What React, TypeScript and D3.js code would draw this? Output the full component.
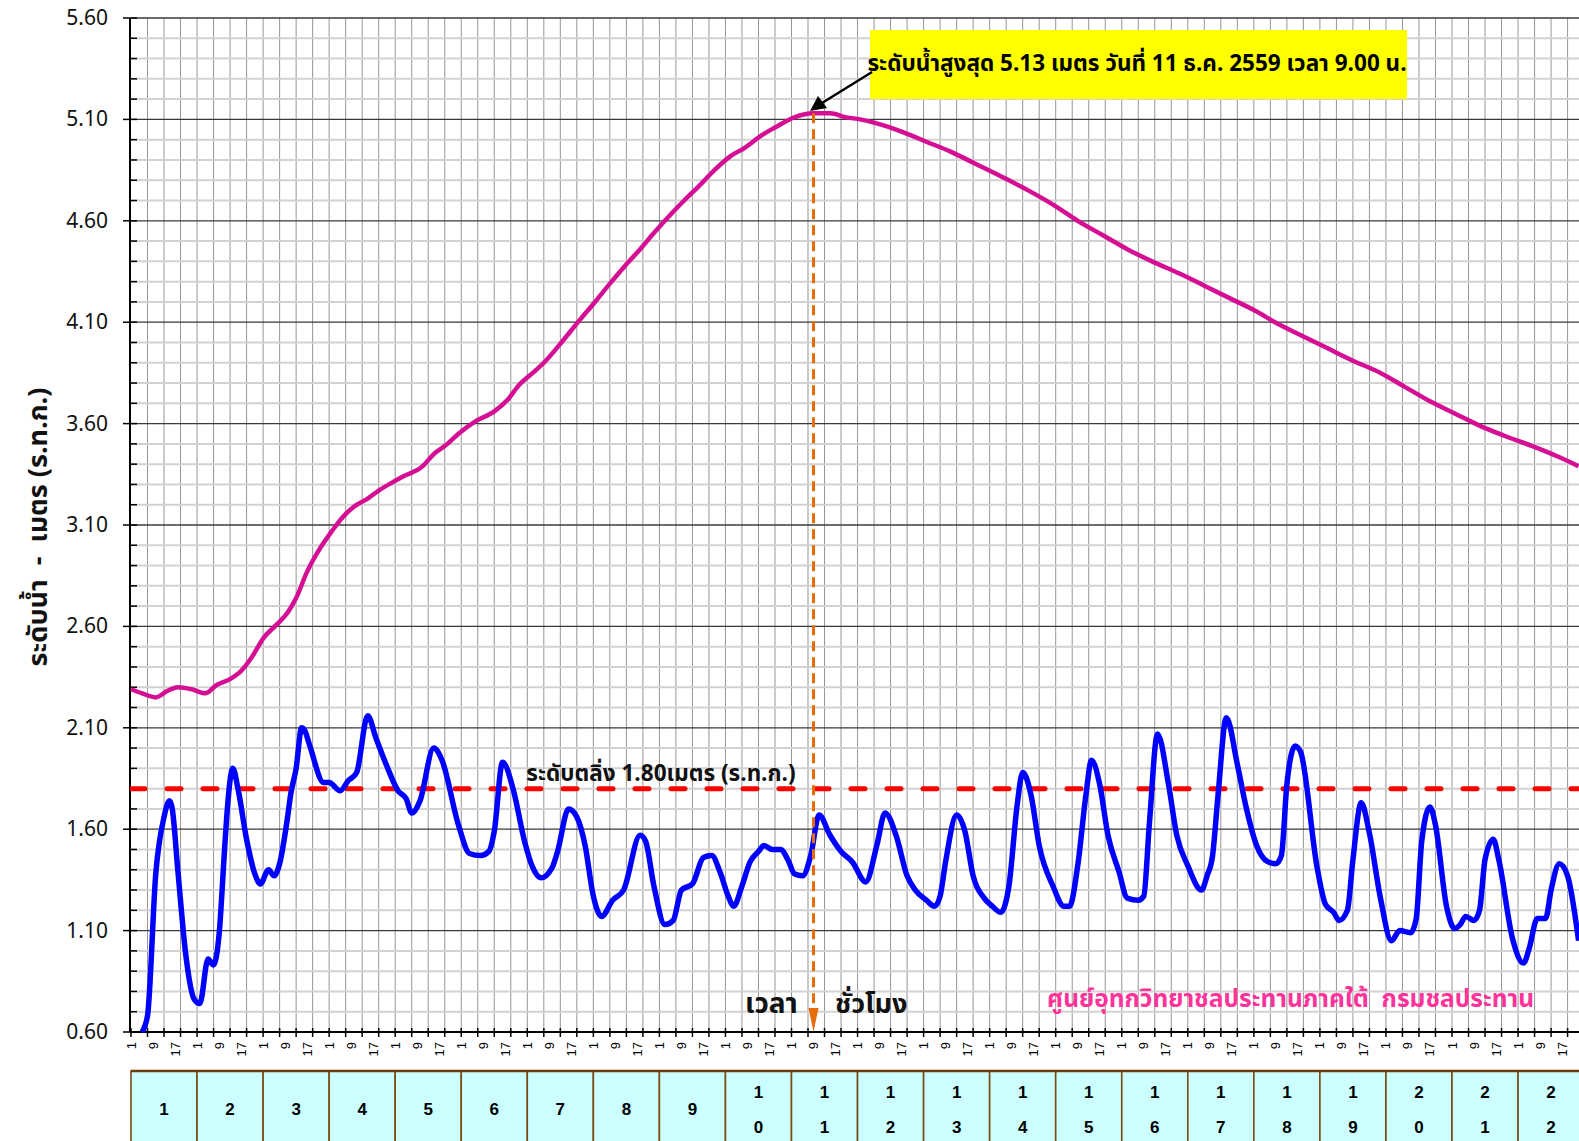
import { useEffect, useRef } from "react";
import * as d3 from "d3";

const W = 1579;
const H = 1141;

// hours counted from day 1, 01:00
const DAYS = d3.range(1, 23);
const HOUR_LABELS = [1, 9, 17];
const Y_TICKS = [0.6, 1.1, 1.6, 2.1, 2.6, 3.1, 3.6, 4.1, 4.6, 5.1, 5.6];
const BANK_LEVEL = 1.8;
const PEAK_HOUR = 248;
const PEAK_LEVEL = 5.13;

// upstream station (pink)
const upstream: [number, number][] = [
  [0, 2.29], [4, 2.27], [9, 2.25], [13, 2.28], [17, 2.3], [22, 2.29], [27, 2.27], [31, 2.31],
  [36, 2.34], [40, 2.38], [44, 2.45], [48, 2.54], [53, 2.61], [57, 2.67], [60, 2.74], [64, 2.87],
  [68, 2.97], [73, 3.07], [77, 3.14], [81, 3.19], [86, 3.23], [90, 3.27], [95, 3.31], [99, 3.34],
  [106, 3.39], [110, 3.45], [115, 3.5], [119, 3.55], [125, 3.61], [132, 3.66], [137, 3.72],
  [141, 3.79], [146, 3.85], [150, 3.9], [157, 4.01], [163, 4.11], [168, 4.19], [174, 4.29],
  [179, 4.37], [185, 4.46], [190, 4.54], [196, 4.63], [201, 4.7], [207, 4.78], [212, 4.85],
  [218, 4.92], [223, 4.96], [229, 5.02], [234, 5.06], [241, 5.11], [248, 5.13], [254, 5.13],
  [260, 5.11], [265, 5.1], [271, 5.08], [280, 5.04], [289, 4.99], [298, 4.94], [307, 4.88],
  [316, 4.82], [326, 4.75], [335, 4.68], [344, 4.6], [353, 4.53], [362, 4.46], [371, 4.4],
  [381, 4.34], [390, 4.28], [399, 4.22], [408, 4.16], [417, 4.09], [426, 4.03], [435, 3.97],
  [444, 3.91], [454, 3.85], [463, 3.78], [472, 3.71], [481, 3.65], [490, 3.59], [499, 3.54],
  [509, 3.49], [518, 3.44], [526, 3.39],
];

// tidal station (blue)
const tidal: [number, number][] = [
  [4, 0.6], [6, 0.68], [9, 1.38], [12, 1.66], [14, 1.74], [15, 1.7], [17, 1.4], [20, 0.97],
  [23, 0.76], [25, 0.74], [28, 0.96], [30, 0.93], [32, 1.08], [34, 1.5], [35, 1.7], [37, 1.9],
  [39, 1.79], [42, 1.55], [45, 1.38], [47, 1.33], [50, 1.4], [52, 1.37], [54, 1.43], [57, 1.67],
  [58, 1.77], [60, 1.9], [62, 2.1], [63, 2.09], [65, 2.01], [70, 1.83], [72, 1.83], [76, 1.79],
  [79, 1.84], [82, 1.88], [86, 2.16], [89, 2.05], [93, 1.91], [97, 1.79], [100, 1.75], [102, 1.68],
  [105, 1.74], [110, 2.0], [113, 1.94], [119, 1.62], [123, 1.48], [127, 1.47], [130, 1.49],
  [132, 1.59], [135, 1.93], [139, 1.79], [143, 1.54], [146, 1.41], [149, 1.36], [153, 1.41],
  [155, 1.49], [159, 1.7], [162, 1.66], [165, 1.52], [168, 1.27], [171, 1.17], [175, 1.25],
  [179, 1.3], [185, 1.57], [187, 1.54], [190, 1.32], [194, 1.13], [197, 1.15], [200, 1.3],
  [204, 1.33], [208, 1.46], [211, 1.47], [214, 1.39], [217, 1.27], [219, 1.22], [222, 1.32],
  [225, 1.44], [228, 1.49], [230, 1.52], [233, 1.5], [236, 1.5], [239, 1.44], [241, 1.38],
  [244, 1.37], [247, 1.47], [250, 1.67], [254, 1.57], [258, 1.49], [262, 1.44], [267, 1.34],
  [271, 1.52], [274, 1.68], [278, 1.57], [282, 1.37], [285, 1.3], [289, 1.25], [292, 1.22],
  [294, 1.27], [296, 1.44], [300, 1.67], [303, 1.59], [306, 1.37], [310, 1.26], [313, 1.22],
  [316, 1.19], [319, 1.32], [322, 1.72], [324, 1.88], [327, 1.77], [330, 1.52], [335, 1.32],
  [339, 1.22], [341, 1.22], [344, 1.42], [347, 1.77], [349, 1.94], [352, 1.82], [355, 1.57],
  [359, 1.39], [362, 1.26], [366, 1.25], [368, 1.27], [370, 1.62], [373, 2.07], [377, 1.82],
  [380, 1.57], [384, 1.42], [389, 1.3], [391, 1.37], [393, 1.47], [395, 1.77], [398, 2.15],
  [402, 1.92], [405, 1.72], [409, 1.52], [413, 1.44], [416, 1.43], [418, 1.47], [420, 1.82],
  [423, 2.01], [425, 1.98], [431, 1.41], [434, 1.23], [437, 1.19], [439, 1.15], [442, 1.2],
  [444, 1.45], [447, 1.73], [450, 1.58], [454, 1.26], [458, 1.05], [461, 1.1], [465, 1.09],
  [467, 1.16], [469, 1.54], [472, 1.71], [474, 1.62], [478, 1.22], [481, 1.11], [483, 1.13],
  [485, 1.17], [488, 1.15], [490, 1.2], [492, 1.45], [495, 1.55], [497, 1.45], [502, 1.06],
  [506, 0.94], [508, 1.01], [511, 1.16], [514, 1.16], [516, 1.3], [519, 1.43], [522, 1.37],
  [526, 1.05],
];

const THAI = "Tahoma, 'Noto Sans Thai', 'Leelawadee UI', 'Noto Sans', sans-serif";

export default function App() {
  const svgRef = useRef<SVGSVGElement>(null);

  useEffect(() => {
    if (!svgRef.current) return;
    const svg = d3.select(svgRef.current);
    svg.selectAll("*").remove();

    const left = 131;
    const top = 18;
    const bottom = 1032;
    const dayW = 66.05;

    const x = d3.scaleLinear().domain([0, 24 * 21]).range([left, left + dayW * 21]);
    const y = d3.scaleLinear().domain([0.6, 5.6]).range([bottom, top]);

    svg.append("defs").append("clipPath").attr("id", "plot")
      .append("rect").attr("x", left - 1).attr("y", 0).attr("width", W - left + 1).attr("height", bottom + 1);

    // grid lines
    const grid = svg.append("g");
    const hours6 = d3.range(6, 540, 6).filter((h) => x(h) <= W);
    grid.selectAll("line.v").data(hours6).join("line")
      .attr("x1", (h) => x(h)).attr("x2", (h) => x(h))
      .attr("y1", top).attr("y2", bottom)
      .attr("stroke", "#959595").attr("stroke-width", 1);

    const tenths = d3.range(6, 57);
    grid.selectAll("line.h").data(tenths.filter((i) => i % 5 !== 1)).join("line")
      .attr("x1", left).attr("x2", W)
      .attr("y1", (i) => y(i / 10)).attr("y2", (i) => y(i / 10))
      .attr("stroke", "#d2d2d2").attr("stroke-width", 2);
    grid.selectAll("line.hm").data(Y_TICKS.slice(1)).join("line")
      .attr("x1", left).attr("x2", W)
      .attr("y1", (v) => y(v)).attr("y2", (v) => y(v))
      .attr("stroke", "#3a3a3a").attr("stroke-width", 1.3);

    // axes
    const axes = svg.append("g").attr("stroke", "#000");
    axes.append("line").attr("x1", 130).attr("x2", 130).attr("y1", top).attr("y2", bottom)
      .attr("stroke-width", 2);
    axes.append("line").attr("x1", 130).attr("x2", W).attr("y1", bottom).attr("y2", bottom)
      .attr("stroke-width", 2);
    axes.selectAll("line.yt").data(tenths.filter((i) => i % 5 !== 1)).join("line")
      .attr("x1", 130).attr("x2", 137)
      .attr("y1", (i) => y(i / 10)).attr("y2", (i) => y(i / 10)).attr("stroke-width", 1.5);
    axes.selectAll("line.ytm").data(Y_TICKS).join("line")
      .attr("x1", 123).attr("x2", 137)
      .attr("y1", (v) => y(v)).attr("y2", (v) => y(v)).attr("stroke-width", 1.5);
    axes.selectAll("line.xt").data(d3.range(0, 540, 6).filter((h) => x(h) <= W)).join("line")
      .attr("x1", (h) => x(h)).attr("x2", (h) => x(h))
      .attr("y1", bottom - 4).attr("y2", bottom + 5).attr("stroke-width", 1.5);

    svg.append("g").selectAll("text").data(Y_TICKS).join("text")
      .attr("x", 108).attr("y", (v) => y(v) + 7)
      .attr("text-anchor", "end")
      .attr("font-family", "'Noto Sans', sans-serif").attr("font-size", 21)
      .attr("fill", "#111")
      .text((v) => v.toFixed(2));

    const labelHours = DAYS.flatMap((d) => HOUR_LABELS.map((h) => ({ t: (d - 1) * 24 + h - 1, h })))
      .filter((o) => x(o.t) < W - 4);
    svg.append("g").selectAll("text").data(labelHours).join("text")
      .attr("transform", (o) => `translate(${x(o.t) + 4.5},1042) rotate(-90)`)
      .attr("text-anchor", "end")
      .attr("font-family", "'Liberation Sans', Arial, sans-serif").attr("font-size", 13)
      .attr("fill", "#000")
      .text((o) => o.h);

    // day table
    const table = svg.append("g");
    table.selectAll("rect").data(DAYS).join("rect")
      .attr("x", (d) => x((d - 1) * 24)).attr("y", 1071)
      .attr("width", dayW).attr("height", 90)
      .attr("fill", "#ccffff").attr("stroke", "#7a4a14").attr("stroke-width", 1.6);
    table.append("line").attr("x1", left).attr("x2", W).attr("y1", 1071).attr("y2", 1071)
      .attr("stroke", "#6b3e0c").attr("stroke-width", 2.4);
    const dayText = table.selectAll("g.day").data(DAYS).join("g")
      .attr("font-family", "'Liberation Sans', Arial, sans-serif").attr("font-size", 17)
      .attr("font-weight", "bold").attr("text-anchor", "middle").attr("fill", "#000");
    dayText.each(function (d) {
      const cx = x((d - 1) * 24 + 12);
      const s = String(d);
      const gg = d3.select(this);
      if (s.length === 1) {
        gg.append("text").attr("x", cx).attr("y", 1115).text(s);
      } else {
        gg.append("text").attr("x", cx).attr("y", 1098).text(s[0]);
        gg.append("text").attr("x", cx).attr("y", 1133).text(s[1]);
      }
    });

    // series
    const plot = svg.append("g").attr("clip-path", "url(#plot)");
    const line = d3.line<[number, number]>()
      .x((d) => x(d[0])).y((d) => y(d[1]))
      .curve(d3.curveMonotoneX);

    plot.append("line")
      .attr("x1", left).attr("x2", W).attr("y1", y(BANK_LEVEL)).attr("y2", y(BANK_LEVEL))
      .attr("stroke", "#ff0000").attr("stroke-width", 5)
      .attr("stroke-dasharray", "14 22").attr("stroke-linecap", "round");

    plot.append("path").datum(upstream).attr("d", line)
      .attr("fill", "none").attr("stroke", "#d40f94").attr("stroke-width", 4.5)
      .attr("stroke-linejoin", "round");

    plot.append("path").datum(tidal).attr("d", line)
      .attr("fill", "none").attr("stroke", "#0000ff").attr("stroke-width", 5.5)
      .attr("stroke-linejoin", "round");

    // peak marker
    const px = x(PEAK_HOUR);
    const py = y(PEAK_LEVEL);
    plot.append("line").attr("x1", px).attr("x2", px).attr("y1", py).attr("y2", bottom - 20)
      .attr("stroke", "#e46c0a").attr("stroke-width", 3).attr("stroke-dasharray", "10 6");
    plot.append("path")
      .attr("d", `M${px - 5},${bottom - 24} L${px + 5},${bottom - 24} L${px},${bottom} Z`)
      .attr("fill", "#e46c0a");

    // labels
    svg.append("text")
      .attr("x", 661).attr("y", 781).attr("text-anchor", "middle")
      .attr("font-family", THAI).attr("font-size", 22.5).attr("font-weight", "bold").attr("fill", "#111")
      .text("ระดับตลิ่ง 1.80เมตร (ร.ท.ก.)");

    svg.append("rect").attr("x", 870).attr("y", 30).attr("width", 537).attr("height", 69)
      .attr("fill", "#ffff00");
    svg.append("text")
      .attr("x", 1137).attr("y", 71).attr("text-anchor", "middle")
      .attr("font-family", THAI).attr("font-size", 22.5).attr("font-weight", "bold").attr("fill", "#000")
      .text("ระดับน้ำสูงสุด 5.13 เมตร วันที่ 11 ธ.ค. 2559 เวลา 9.00 น.");
    svg.append("line").attr("x1", 872).attr("y1", 72).attr("x2", 822).attr("y2", 103)
      .attr("stroke", "#000").attr("stroke-width", 2.5);
    svg.append("path").attr("d", "M810,111 L818,96 L827,108 Z").attr("fill", "#000");

    svg.append("text")
      .attr("x", 745).attr("y", 1013)
      .attr("font-family", THAI).attr("font-size", 28).attr("font-weight", "bold").attr("fill", "#111")
      .text("เวลา");
    svg.append("text")
      .attr("x", 835).attr("y", 1013)
      .attr("font-family", THAI).attr("font-size", 27).attr("font-weight", "bold").attr("fill", "#111")
      .text("ชั่วโมง");

    svg.append("text")
      .attr("x", 1047).attr("y", 1007)
      .attr("font-family", THAI).attr("font-size", 24.5).attr("font-weight", "bold").attr("fill", "#ff3399")
      .attr("xml:space", "preserve")
      .text("ศูนย์อุทกวิทยาชลประทานภาคใต้  กรมชลประทาน");

    svg.append("text")
      .attr("transform", "translate(47,527) rotate(-90)")
      .attr("text-anchor", "middle")
      .attr("font-family", THAI).attr("font-size", 27).attr("font-weight", "bold").attr("fill", "#111")
      .attr("xml:space", "preserve")
      .text("ระดับน้ำ  -  เมตร (ร.ท.ก.)");
  }, []);

  return (
    <div style={{ position: "absolute", left: 0, top: 0, width: W, height: H, background: "#fff", overflow: "hidden" }}>
      <svg ref={svgRef} width={W} height={H} />
    </div>
  );
}
